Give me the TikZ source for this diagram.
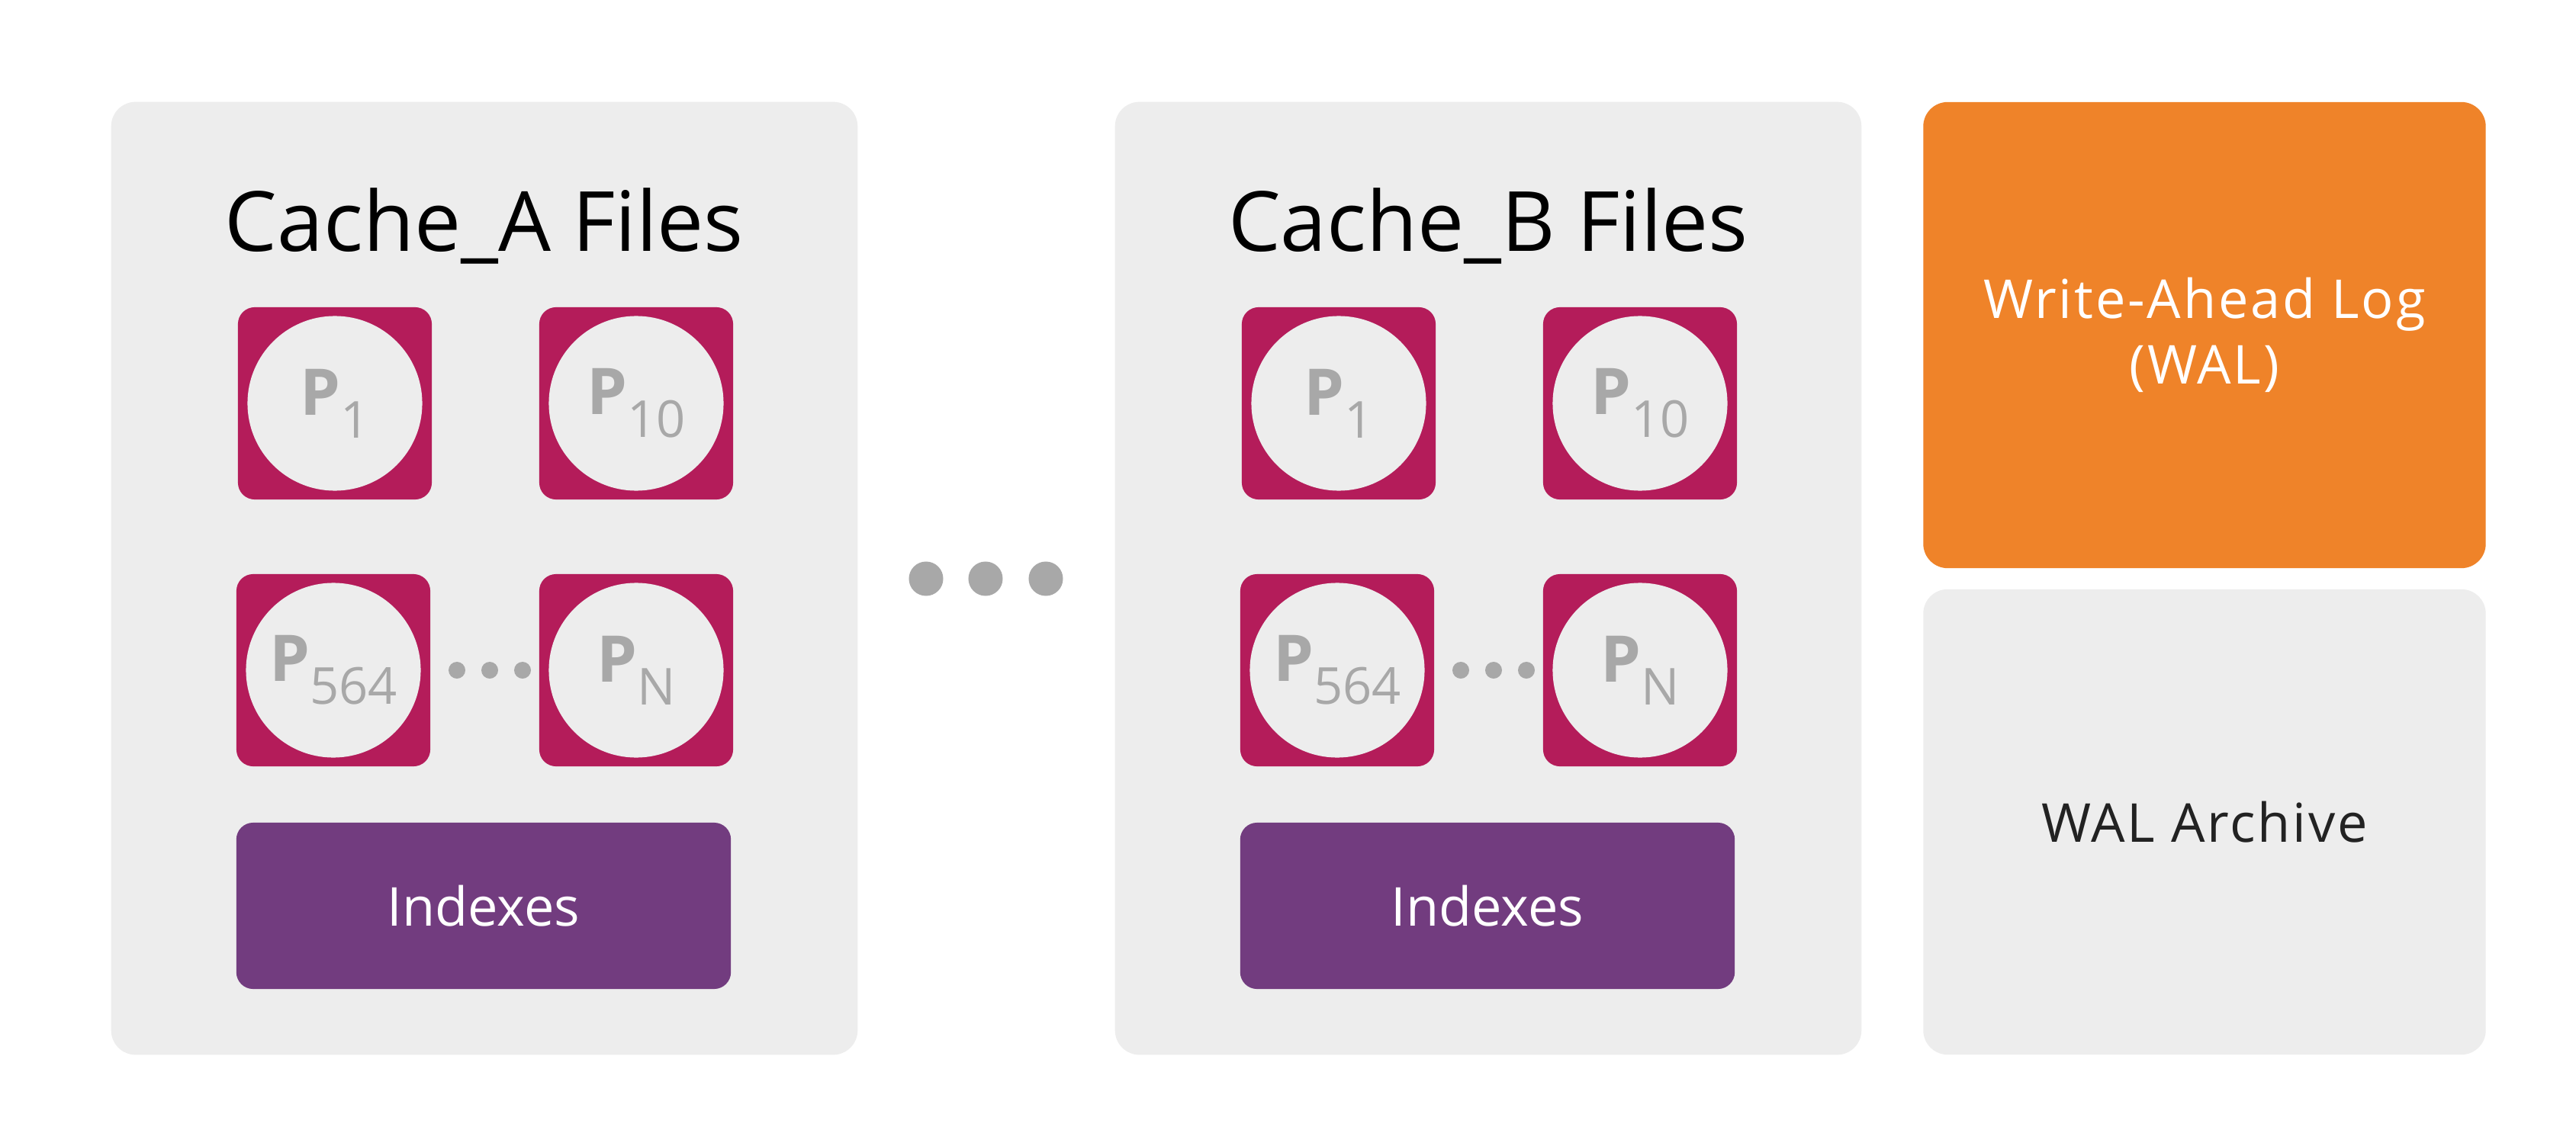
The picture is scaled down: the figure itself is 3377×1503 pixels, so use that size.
\documentclass[tikz,border=0pt]{standalone}
\usepackage{fontspec}
\setmainfont{Open Sans}
\newfontfamily\spaced[LetterSpace=4]{Open Sans}
\definecolor{panel}{HTML}{EDEDED}
\definecolor{pagecol}{HTML}{B41C5A}
\definecolor{idx}{HTML}{723C7F}
\definecolor{walcol}{HTML}{EF8329}
\definecolor{ptext}{HTML}{A8A8A8}
\definecolor{dark}{HTML}{222222}
\tikzset{
  panelbox/.style={fill=panel, rounded corners=0.32cm, inner sep=0, minimum width=9.78cm, minimum height=12.49cm},
  pagebox/.style={fill=pagecol, rounded corners=0.22cm, inner sep=0, minimum width=2.54cm, minimum height=2.52cm},
  pagecirc/.style={circle, fill=panel, inner sep=0, minimum size=2.29cm, text=ptext},
  idxbox/.style={fill=idx, rounded corners=0.22cm, inner sep=0, minimum width=6.48cm, minimum height=2.18cm, text=white, font=\fontsize{20}{24}\selectfont},
  smalldot/.style={circle, fill=ptext, inner sep=0, minimum size=0.22cm},
  bigdot/.style={circle, fill=ptext, inner sep=0, minimum size=0.45cm},
  titletext/.style={font=\fontsize{31}{36}\selectfont, text=black, inner sep=0, anchor=base},
  walbox/.style={fill=walcol, rounded corners=0.32cm, inner sep=0, minimum width=7.37cm, minimum height=6.11cm, text=white, align=center, font=\spaced\fontsize{20}{24.5}\selectfont},
  archbox/.style={fill=panel, rounded corners=0.32cm, inner sep=0, minimum width=7.37cm, minimum height=6.10cm, text=dark, font=\spaced\fontsize{20}{24}\selectfont},
}
\newcommand\plabel[1]{{\fontsize{24}{24}\selectfont\bfseries P}\raisebox{-8.5pt}{\fontsize{19}{19}\selectfont #1}}
\newcommand\pagecell[4]{%
  \node[pagebox] (#1) at (#2,#3) {};
  \node[pagecirc] (#1c) at (#2,#3) {\plabel{#4}};
}
\begin{document}
\begin{tikzpicture}[x=0.01cm, y=-0.01cm]
\useasboundingbox (0,0) rectangle (3377,1503);
\fill[white] (0,0) rectangle (3377,1503);
% Cache A
\node[panelbox] (pa) at (635,758.5) {};
\node[titletext] (ta) at (635,330) {Cache\_A Files};
\pagecell{a1}{439}{529}{1}
\pagecell{a10}{834}{529}{10}
\pagecell{a564}{437}{879}{564}
\pagecell{aN}{834}{879}{N}
\node[smalldot] (ad1) at (599,879) {};
\node[smalldot] (ad2) at (642,879) {};
\node[smalldot] (ad3) at (685,879) {};
\node[idxbox] (ia) at (634,1188) {Indexes};
% Cache B
\node[panelbox] (pb) at (1951,758.5) {};
\node[titletext] (tb) at (1951,330) {Cache\_B Files};
\pagecell{b1}{1755}{529}{1}
\pagecell{b10}{2150}{529}{10}
\pagecell{b564}{1753}{879}{564}
\pagecell{bN}{2150}{879}{N}
\node[smalldot] (bd1) at (1915,879) {};
\node[smalldot] (bd2) at (1958,879) {};
\node[smalldot] (bd3) at (2001,879) {};
\node[idxbox] (ib) at (1950,1188) {Indexes};
% big dots
\node[bigdot] (g1) at (1214,759) {};
\node[bigdot] (g2) at (1292,759) {};
\node[bigdot] (g3) at (1371,759) {};
% WAL
\node[walbox] (wal) at (2890,439.5) {Write-Ahead Log\\(WAL)};
\node[archbox] (arch) at (2890,1078) {WAL Archive};
\end{tikzpicture}
\end{document}
